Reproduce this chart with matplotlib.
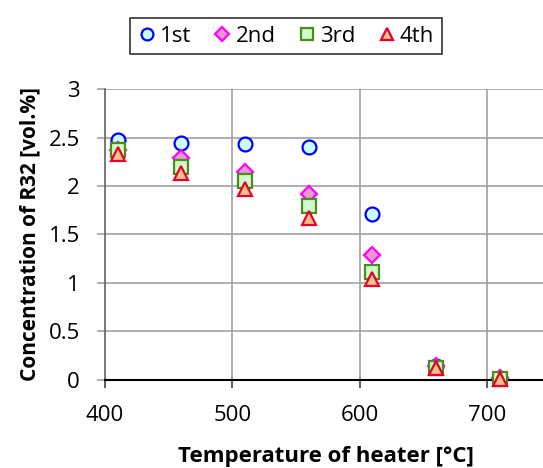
import matplotlib.pyplot as plt

plt.rcParams['font.family'] = ['Open Sans', 'DejaVu Sans']

temps = [410, 460, 510, 560, 610, 660, 710]
run_1st = [2.48, 2.45, 2.43, 2.40, 1.71, 0.14, 0.02]
run_2nd = [2.37, 2.29, 2.15, 1.92, 1.29, 0.14, 0.02]
run_3rd = [2.37, 2.20, 2.05, 1.79, 1.11, 0.12, 0.01]
run_4th = [2.33, 2.14, 1.97, 1.67, 1.04, 0.12, 0.01]
labels = ['1st', '2nd', '3rd', '4th']

fig = plt.figure(figsize=(5.43, 4.68), dpi=100)
ax = fig.add_axes([0.1934, 0.1887, 0.8066, 0.6205])

#marker style per run: (marker, edge colour, face colour, size)
styles = [
    ('o', '#0000FF', '#CCFFFF', 10),
    ('D', '#FF00FF', '#E699CC', 8),
    ('s', '#4E8A1E', '#CCFFCC', 10),
    ('^', '#E8002A', '#F5C08C', 10),
]
for vals, lab, (m, ec, fc, ms) in zip([run_1st, run_2nd, run_3rd, run_4th], labels, styles):
    ax.plot(temps, vals, linestyle='none', marker=m, markersize=ms,
            markeredgecolor=ec, markerfacecolor=fc, markeredgewidth=1.6,
            label=lab, zorder=3, clip_on=False)

ax.set_xlim(400, 744)
ax.set_ylim(0, 3)
ax.set_xticks([400, 500, 600, 700])
ax.set_yticks([0, 0.5, 1, 1.5, 2, 2.5, 3])
ax.set_yticklabels(['0', '0.5', '1', '1.5', '2', '2.5', '3'])
ax.grid(True, color='#A0A0A0', linewidth=1.2)
ax.set_axisbelow(True)
for s in ['top', 'right']:
    ax.spines[s].set_visible(False)
ax.spines['left'].set_color('#707070')
ax.spines['left'].set_linewidth(1.3)
ax.spines['bottom'].set_color('black')
ax.spines['bottom'].set_linewidth(1.5)
ax.tick_params(axis='x', length=6, width=1.2, color='#404040', labelsize=16, pad=12)
ax.tick_params(axis='y', length=6, width=1.2, color='#A0A0A0', labelsize=16, pad=12)

ax.set_ylabel('Concentration of R32 [vol.%]', fontsize=15, fontweight='bold', labelpad=6)
fig.text(326 / 543, 1 / 468, 'Temperature of heater [°C]', fontsize=16, fontweight='bold',
         ha='center', va='bottom')

leg = fig.legend(loc='center', bbox_to_anchor=(286 / 543, 1 - 36 / 468), ncol=4,
                 fontsize=16, frameon=True, fancybox=False, edgecolor='black',
                 handletextpad=0.2, columnspacing=1.0, borderpad=0.35, handlelength=0.8,
                 markerscale=0.85)
leg.get_frame().set_linewidth(1.2)

fig.savefig('out.png', dpi=100)
